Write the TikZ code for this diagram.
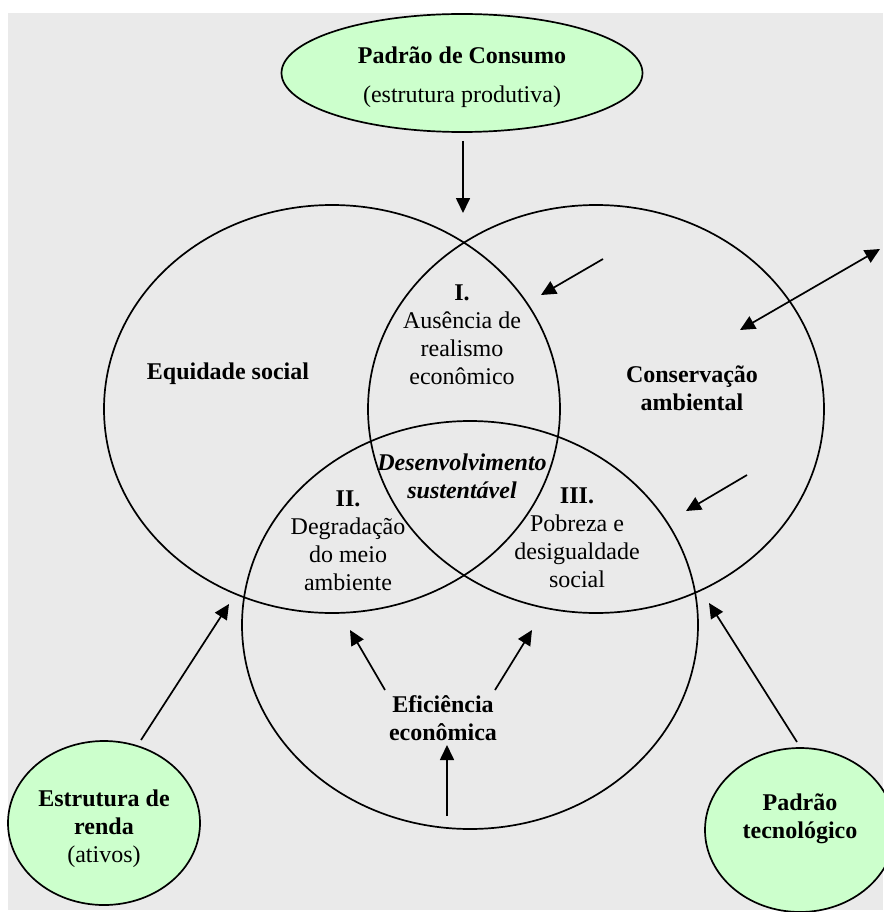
\documentclass[tikz,border=0pt]{standalone}
\usepackage{fontspec}
\setmainfont{Liberation Serif}
\usepackage{xcolor}
\definecolor{paleGreen}{HTML}{CCFFCC}
\definecolor{panelGray}{HTML}{EAEAEA}
\usepackage{tikz}
\usetikzlibrary{shapes,arrows,positioning,calc,arrows.meta}
\tikzset{%
  pillarEllipse/.style={%
    ellipse,
    draw=black,
    line width=1.7pt,
    minimum width=456pt,
    minimum height=408pt,
    inner sep=0pt
  },
  factorEllipse/.style={%
    ellipse,
    draw=black,
    line width=1.7pt,
    fill=paleGreen,
    inner sep=0pt
  },
  arrowLine/.style={%
    -{Triangle[length=15pt,width=14pt]},
    line width=1.7pt,
    color=black
  },
  boldLabel/.style={%
    font=\fontsize{24}{28}\selectfont\bfseries,
    align=center,
    inner sep=0pt
  },
  plainLabel/.style={%
    font=\fontsize{24}{28}\selectfont,
    align=center,
    inner sep=0pt
  }
}

\begin{document}
\begin{tikzpicture}[x=1pt,y=-1pt]
            \useasboundingbox (0,0) rectangle (883,912);
            \fill[panelGray] (8,13) rectangle (883,910);

            % external factors
            \node[factorEllipse, minimum width=361pt, minimum height=118pt] (consumo) at (462,73) {};
            \node[boldLabel] (consumoTitle) at (462,55) {Padrão de Consumo};
            \node[plainLabel] (consumoSub) at (462,97) {(estrutura produtiva)};
            \node[factorEllipse, minimum width=192pt, minimum height=164pt] (renda) at (104,823) {};
            \node[plainLabel] (rendaText) at (104,829) {\textbf{Estrutura de}\\\textbf{renda}\\(ativos)};
            \node[factorEllipse, minimum width=190pt, minimum height=164pt] (tecno) at (800,830) {};
            \node[boldLabel] (tecnoText) at (800,819) {Padrão\\tecnológico};

            % the three pillars
            \node[pillarEllipse] (equidade) at (332,409) {};
            \node[pillarEllipse] (conservacao) at (596,409) {};
            \node[pillarEllipse] (eficiencia) at (470,625) {};

            \node[boldLabel] (equidadeText) at (228,374) {Equidade social};
            \node[boldLabel] (conservacaoText) at (692,388) {Conservação\\ambiental};
            \node[boldLabel] (eficienciaText) at (443,718) {Eficiência\\econômica};
            \node[boldLabel, font=\fontsize{24}{28}\selectfont\bfseries\itshape] (desenv) at (462,476) {Desenvolvimento\\sustentável};

            \node[plainLabel] (zoneOne) at (462,335) {\textbf{I.}\\Ausência de\\realismo\\econômico};
            \node[plainLabel] (zoneTwo) at (348,541) {\textbf{II.}\\Degradação\\do meio\\ambiente};
            \node[plainLabel] (zoneThree) at (577,538) {\textbf{III.}\\Pobreza e\\desigualdade\\social};

            % arrow ends
            \coordinate (consumoOut) at (463,141);
            \coordinate (consumoIn) at (463,213);
            \coordinate (oneOut) at (603,259);
            \coordinate (oneIn) at (541,295);
            \coordinate (outerEnd) at (880,249);
            \coordinate (innerEnd) at (740,330);
            \coordinate (threeOut) at (747,475);
            \coordinate (threeIn) at (686,511);
            \coordinate (rendaOut) at (141,740);
            \coordinate (rendaIn) at (229,604);
            \coordinate (tecnoOut) at (797,742);
            \coordinate (tecnoIn) at (709,603);
            \coordinate (efLeftOut) at (385,690);
            \coordinate (efLeftIn) at (350,630);
            \coordinate (efRightOut) at (495,690);
            \coordinate (efRightIn) at (532,630);
            \coordinate (efUpOut) at (447,816);
            \coordinate (efUpIn) at (447,745);

            \draw[arrowLine] (consumoOut) -- (consumoIn);
            \draw[arrowLine] (oneOut) -- (oneIn);
            \draw[arrowLine, {Triangle[length=15pt,width=14pt]}-{Triangle[length=15pt,width=14pt]}] (innerEnd) -- (outerEnd);
            \draw[arrowLine] (threeOut) -- (threeIn);
            \draw[arrowLine] (rendaOut) -- (rendaIn);
            \draw[arrowLine] (tecnoOut) -- (tecnoIn);
            \draw[arrowLine] (efLeftOut) -- (efLeftIn);
            \draw[arrowLine] (efRightOut) -- (efRightIn);
            \draw[arrowLine] (efUpOut) -- (efUpIn);
        \end{tikzpicture}
\end{document}
